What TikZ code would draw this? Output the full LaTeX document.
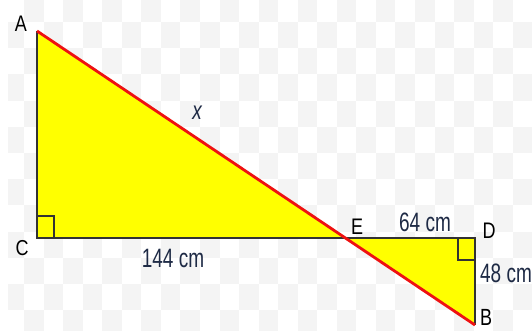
\documentclass[tikz,border=0pt]{standalone}
\usepackage{fontspec}
\setmainfont{Liberation Sans}
\usepackage{graphicx}
\definecolor{tyellow}{HTML}{FFFF00}
\definecolor{tred}{HTML}{EE1111}
\definecolor{tnavy}{HTML}{1E2A45}
\definecolor{checker}{HTML}{F4F4F4}
\begin{document}
\begin{tikzpicture}[x=1pt,y=-1pt,
  leg/.style={draw=black!80, line width=1.8pt, line join=miter},
  hyp/.style={draw=tred, line width=2.8pt},
  rbox/.style={draw=black!80, line width=1.4pt},
  vlabel/.style={inner sep=0pt, text=black, font=\fontsize{18}{18}\selectfont},
  mlabel/.style={inner sep=0pt, text=tnavy, font=\fontsize{19}{19}\selectfont}]
\useasboundingbox (0,0) rectangle (532,331);
\fill[white] (0,0) rectangle (532,331);
\begin{scope}
  \clip (8,0) rectangle (532,331);
  \foreach \i in {-1,...,11} {
    \foreach \j in {-1,...,25} {
      \pgfmathtruncatemacro{\chkpar}{mod(\i+\j+100,2)}
      \ifnum\chkpar=1
        \fill[checker] ({24+19.55*\j},{22+26.2*\i}) rectangle ++(19.55,26.2);
      \fi
    }
  }
\end{scope}
% vertices
\coordinate (A) at (37,31);
\coordinate (C) at (37,238);
\coordinate (E) at (345.4,238);
\coordinate (D) at (475,238);
\coordinate (B) at (475,325);
% fills
\fill[tyellow] (A) -- (C) -- (E) -- cycle;
\fill[tyellow] (E) -- (D) -- (B) -- cycle;
% legs
\draw[leg] (A) -- (C) -- (D) -- (B);
% right-angle marks
\draw[rbox] ([xshift=17pt]C) -- ++(0,-22) -- ++(-17,0);
\draw[rbox] ([xshift=-17pt]D) -- ++(0,22) -- ++(17,0);
% hypotenuse line
\draw[hyp] (A) -- (B);
% vertex labels
\node[vlabel] (lA) at (21,24) {\scalebox{1}[1.25]{A}};
\node[vlabel] (lC) at (22,248) {\scalebox{1}[1.2]{C}};
\node[vlabel] (lE) at (357,227) {\scalebox{1}[1.25]{E}};
\node[vlabel] (lD) at (489,231) {\scalebox{1}[1.25]{D}};
\node[vlabel] (lB) at (486,317) {\scalebox{1}[1.3]{B}};
% measure labels
\node[mlabel] (lx) at (197,113) {\scalebox{1}[1.35]{\itshape x}};
\node[mlabel] (l144) at (173,258) {\scalebox{1}[1.4]{144 cm}};
\node[mlabel] (l64) at (425,222) {\scalebox{1}[1.4]{64 cm}};
\node[mlabel] (l48) at (506,273) {\scalebox{1}[1.4]{48 cm}};
\end{tikzpicture}
\end{document}
